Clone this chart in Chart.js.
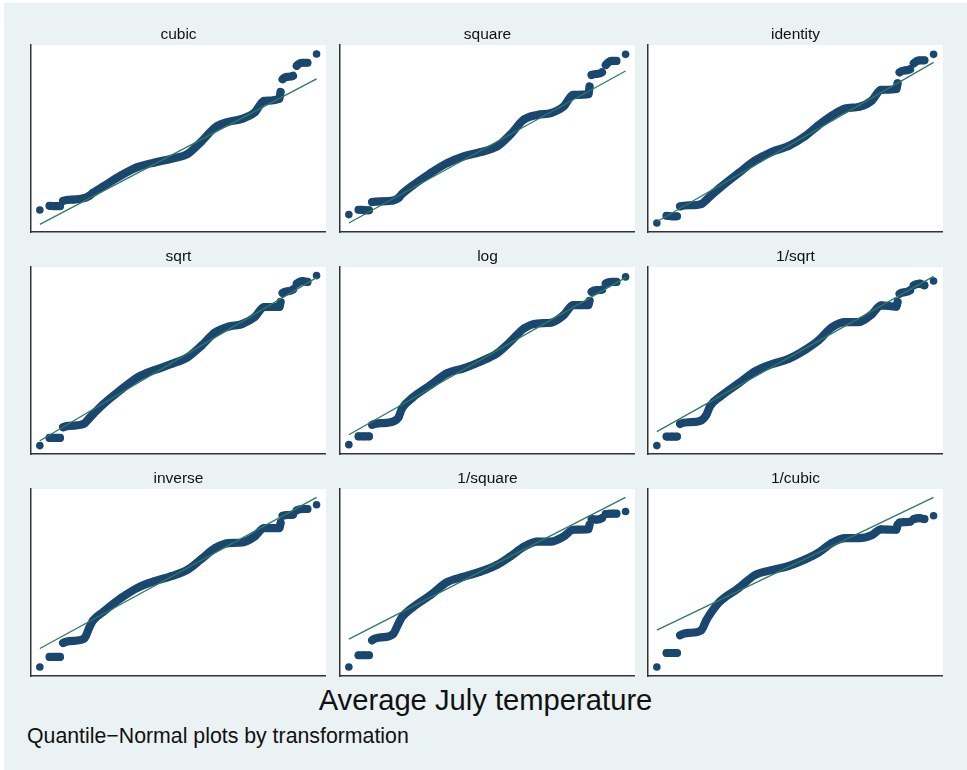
<!DOCTYPE html>
<html>
<head>
<meta charset="utf-8">
<script src="https://cdn.jsdelivr.net/npm/chart.js@4.4.1/dist/chart.umd.min.js"></script>
<style>
  html, body { margin: 0; padding: 0; background: #ffffff; }
  #bg { position: absolute; left: 4px; top: 3px; width: 963px; height: 767px; background: #eaf2f3; }
  canvas.panel { position: absolute; }
  .txt { position: absolute; font-family: "Liberation Sans", Arial, Helvetica, sans-serif; color: #111; white-space: nowrap; line-height: 1; }
</style>
</head>
<body>
<div id="bg"></div>
<div class="txt" id="mainTitle" style="left:2px;width:967px;text-align:center;top:686px;font-size:29.2px;">Average July temperature</div>
<div class="txt" id="note" style="left:27px;top:726px;font-size:21.3px;">Quantile−Normal plots by transformation</div>

<script>
// ---------------- DATA ----------------
// Panels (transformations)
const panelTitles = ['cubic', 'square', 'identity', 'sqrt', 'log', '1/sqrt', 'inverse', '1/square', '1/cubic'];

// Horizontal positions: normal quantile position (scaled 0-100 across the plot)
const normalQuantile = [3.0, 6.3, 8.1, 9.8, 10.9, 14.3, 18.0, 19.8, 21.0, 24.5,
                        30.7, 36.3, 41.9, 47.6, 53.2, 57.7, 62.4, 66.9, 71.5, 75.8,
                        79.0, 84.2, 84.6, 85.3, 87.0, 88.8, 90.1, 92.1, 93.7, 96.8];

// Ordered transformed values (scaled 0-100 within each panel)
const cubicVals    = [11.8, 14.0, 13.8, 13.8, 16.7, 17.3, 18.1, 19.4, 20.9, 24.4,
                      30.4, 34.8, 37.2, 39.2, 41.9, 48.3, 55.9, 58.9, 60.5, 63.9,
                      70.1, 71.3, 74.9, 81.7, 83.0, 83.5, 88.9, 90.5, 90.5, 95.2];
const squareVals   = [9.3, 11.9, 11.7, 11.6, 16.0, 16.4, 16.8, 18.2, 20.3, 24.7,
                      31.5, 36.8, 40.4, 42.7, 45.7, 52.0, 60.2, 62.6, 63.6, 67.1,
                      73.3, 73.7, 77.8, 84.0, 84.5, 85.4, 89.3, 91.5, 91.5, 95.0];
const identityVals = [4.8, 8.7, 8.4, 8.4, 13.7, 14.3, 14.9, 17.2, 19.0, 23.8,
                      31.5, 38.2, 42.8, 45.9, 51.2, 57.0, 62.3, 66.0, 66.9, 70.2,
                      76.0, 76.5, 79.5, 85.4, 86.4, 87.0, 90.2, 91.8, 91.8, 95.0];
const sqrtVals     = [4.5, 8.6, 8.6, 8.6, 14.3, 15.2, 16.2, 19.2, 21.2, 26.6,
                      34.6, 41.1, 44.9, 48.1, 51.9, 57.8, 65.0, 68.1, 69.5, 73.2,
                      78.6, 78.6, 81.3, 86.1, 87.0, 88.0, 91.1, 92.5, 92.0, 95.4];
const logVals      = [5.0, 9.4, 9.4, 9.4, 15.6, 16.5, 17.4, 19.5, 24.3, 30.0,
                      36.9, 43.2, 45.8, 49.4, 53.8, 60.0, 67.2, 69.8, 70.2, 74.2,
                      79.6, 79.6, 81.9, 86.7, 87.6, 87.9, 91.1, 92.0, 92.0, 94.7];
const invSqrtVals  = [4.5, 9.3, 9.3, 9.3, 16.1, 17.0, 17.9, 21.0, 25.5, 30.7,
                      37.8, 44.2, 48.0, 50.8, 55.6, 60.6, 67.8, 70.5, 70.5, 74.6,
                      79.5, 78.8, 81.3, 85.7, 86.5, 87.5, 90.2, 91.1, 90.2, 92.5];
const inverseVals  = [4.8, 10.2, 10.2, 10.2, 17.7, 18.8, 20.0, 26.0, 29.6, 34.3,
                      41.9, 47.3, 50.7, 53.4, 57.0, 62.5, 68.4, 71.1, 71.4, 74.6,
                      79.1, 79.1, 81.8, 85.7, 86.1, 86.3, 88.6, 89.3, 89.3, 91.6];
const invSquareVals= [4.8, 11.1, 11.1, 11.1, 19.1, 20.7, 22.4, 28.0, 31.5, 36.5,
                      43.3, 50.2, 53.1, 55.8, 59.4, 63.9, 69.2, 71.9, 71.9, 74.6,
                      78.2, 78.5, 80.9, 83.9, 83.6, 84.4, 86.6, 86.8, 86.8, 88.0];
const invCubicVals = [4.8, 12.3, 12.3, 12.3, 21.8, 23.1, 24.4, 29.9, 33.0, 40.0,
                      47.0, 54.0, 56.6, 58.8, 62.3, 65.9, 71.2, 73.7, 73.7, 75.3,
                      78.4, 78.2, 80.9, 82.1, 82.3, 82.5, 83.9, 84.4, 83.9, 85.7];

// Normal reference line (value at first and last quantile), per panel
const refLineStart = [4.1, 4.8, 5.5, 7.1, 10.3, 12.0, 14.7, 19.7, 24.5];
const refLineEnd   = [81.9, 86.1, 90.7, 94.3, 94.3, 95.0, 95.5, 95.5, 95.5];

// Indices where a separate run of tied values begins (gaps between runs)
const runStarts = [1, 4, 23, 26, 29];

// ---------------- LAYOUT / STYLE ----------------
const panelValues = [cubicVals, squareVals, identityVals, sqrtVals, logVals,
                     invSqrtVals, inverseVals, invSquareVals, invCubicVals];
const colLeft = [31, 339.5, 648];
const rowTop = [45, 267, 489];
const plotW = 295, plotH = 187;
const TITLE_H = 20;
const TITLE_SIZE = 15.5;
const NAVY = '#1a476f';
const GREEN = '#2f7a64';
const AXIS = '#333333';
const FONT = '"Liberation Sans", Arial, Helvetica, sans-serif';

const whiteArea = {
  id: 'whiteArea',
  beforeDraw(chart) {
    const a = chart.chartArea, c = chart.ctx;
    c.save(); c.fillStyle = '#ffffff';
    c.fillRect(a.left, a.top, a.right - a.left, a.bottom - a.top);
    c.restore();
  }
};

panelTitles.forEach((title, p) => {
  const r = Math.floor(p / 3), col = p % 3;
  const cv = document.createElement('canvas');
  cv.className = 'panel';
  const W = plotW + 1, H = TITLE_H + plotH + 1;
  cv.width = W; cv.height = H;
  cv.style.width = W + 'px'; cv.style.height = H + 'px';
  cv.style.left = (colLeft[col] - 1) + 'px';
  cv.style.top = (rowTop[r] - TITLE_H) + 'px';
  document.body.appendChild(cv);

  const vals = panelValues[p];
  const pts = normalQuantile.map((x, i) => ({ x: x, y: vals[i] }));
  const ref = [
    { x: normalQuantile[0], y: refLineStart[p] },
    { x: normalQuantile[normalQuantile.length - 1], y: refLineEnd[p] }
  ];

  const axisOpts = {
    type: 'linear', min: 0, max: 100, display: true,
    grid: { display: false, drawTicks: false },
    ticks: { display: false },
    border: { display: true, color: AXIS, width: 1.5 },
    title: { display: false }
  };

  new Chart(cv, {
    type: 'line',
    data: {
      datasets: [
        {
          label: 'Normal reference',
          data: ref,
          borderColor: GREEN,
          borderWidth: 1.3,
          pointRadius: 0,
          clip: false
        },
        {
          label: title,
          data: pts,
          borderColor: NAVY,
          backgroundColor: NAVY,
          borderWidth: 8.2,
          borderJoinStyle: 'round',
          borderCapStyle: 'round',
          pointRadius: 3.8,
          pointBorderWidth: 0,
          pointBackgroundColor: NAVY,
          cubicInterpolationMode: 'monotone',
          clip: false,
          segment: {
            borderColor: ctx => runStarts.includes(ctx.p1DataIndex) ? 'rgba(0,0,0,0)' : NAVY
          }
        }
      ]
    },
    options: {
      responsive: false,
      animation: false,
      devicePixelRatio: 1,
      layout: { autoPadding: false, padding: { left: 1, right: 0, top: 0, bottom: 1 } },
      scales: { x: axisOpts, y: Object.assign({}, axisOpts) },
      plugins: {
        legend: { display: false },
        tooltip: { enabled: false },
        title: {
          display: true, text: title, color: '#111',
          font: { family: FONT, size: TITLE_SIZE, weight: 'normal' },
          padding: { top: 0, bottom: TITLE_H - TITLE_SIZE * 1.2 }
        }
      }
    },
    plugins: [whiteArea]
  });
});
</script>
</body>
</html>
